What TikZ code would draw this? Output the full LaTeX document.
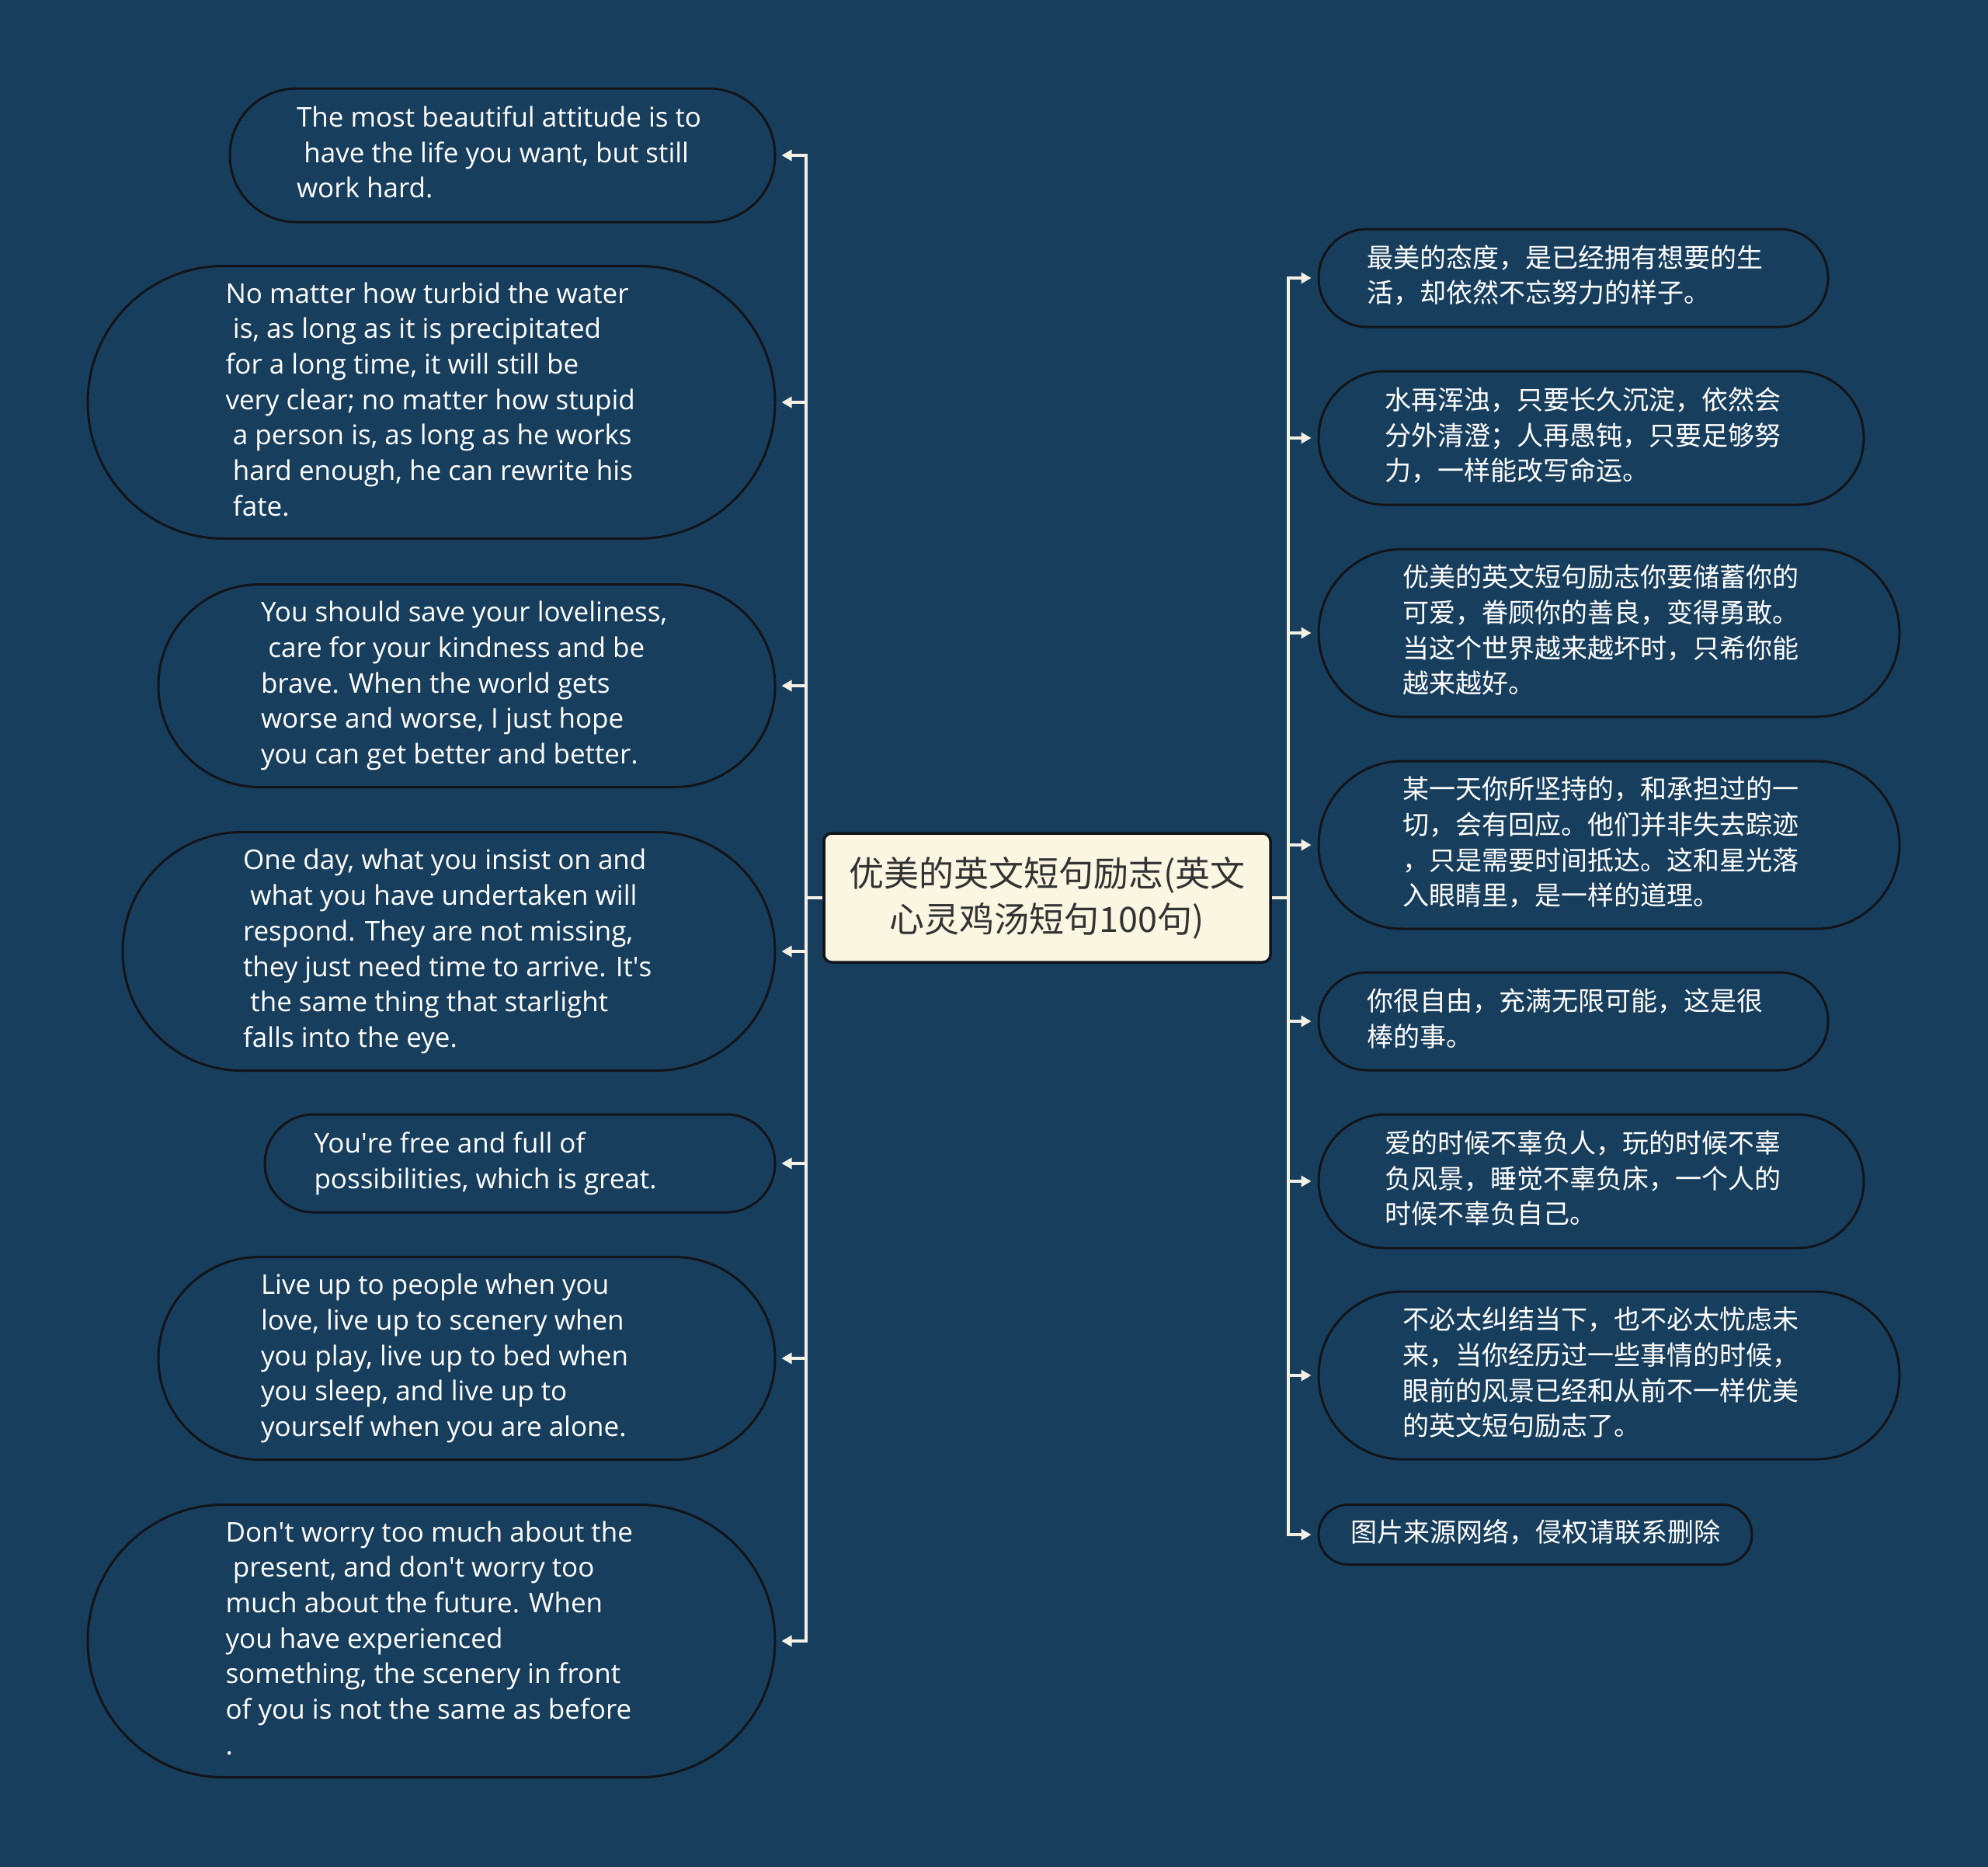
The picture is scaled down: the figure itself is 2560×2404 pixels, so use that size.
\documentclass[tikz,border=0pt]{standalone}
\usepackage{fontspec}
\setmainfont{Open Sans}
\newfontfamily\cjk{Noto Sans CJK SC}
\usetikzlibrary{arrows.meta}
\definecolor{bg}{HTML}{183E5E}
\definecolor{edgeblk}{HTML}{121418}
\definecolor{conncol}{HTML}{F4F1E4}
\definecolor{rootfill}{HTML}{FBF6E2}
\definecolor{roottext}{HTML}{333333}
\newcommand{\ind}{\hspace*{0.27em}}
\newcommand{\apo}{\textquotesingle}
\newcommand{\tbl}[2]{\raisebox{-3pt}{\makebox[#1pt][l]{\begin{tabular}{@{}l@{}}#2\end{tabular}}}}
\begin{document}
\begin{tikzpicture}[x=1pt,y=-1pt,
  leaf/.style 2 args={draw=edgeblk, line width=3, fill=bg, text=white,
     inner sep=0pt, minimum width=#1, minimum height=#2, rounded corners=#2/2-0.5},
  entext/.style={font=\fontsize{35}{45.7}\selectfont},
  cntext/.style={font=\cjk\fontsize{34}{45.7}\selectfont},
  root/.style={draw=edgeblk, line width=3.5, fill=rootfill, text=roottext, align=center,
     inner sep=0pt, minimum width=575, minimum height=166, rounded corners=10,
     font=\cjk\fontsize{45}{59}\selectfont},
  conn/.style={draw=conncol, line width=3.4, -{Triangle[length=13,width=14]}}]
\fill[bg] (0,0) rectangle (2560,2404);
\useasboundingbox (0,0) rectangle (2560,2404);

\node[root] (c) at (1348.5,1156) {优美的英文短句励志(英文\\心灵鸡汤短句100句)};

\coordinate (tl) at (1038,1156);
\coordinate (tr) at (1659,1156);

% left nodes
\node[leaf={702}{172}, entext] (L1) at (647,200) {\tbl{530}{The most beautiful attitude is to\\\ind have the life you want, but still\\work hard.}};
\node[leaf={885}{351}, entext] (L2) at (555.5,518) {\tbl{530}{No matter how turbid the water\\\ind is, as long as it is precipitated\\for a long time, it will still be\\very clear; no matter how stupid\\\ind a person is, as long as he works\\\ind hard enough, he can rewrite his\\\ind fate.}};
\node[leaf={794}{261}, entext] (L3) at (601,883) {\tbl{530}{You should save your loveliness,\\\ind care for your kindness and be\\brave. When the world gets\\worse and worse, I just hope\\you can get better and better.}};
\node[leaf={840}{307}, entext] (L4) at (578,1225) {\tbl{530}{One day, what you insist on and\\\ind what you have undertaken will\\respond. They are not missing,\\they just need time to arrive. It\apo s\\\ind the same thing that starlight\\falls into the eye.}};
\node[leaf={657}{126}, entext] (L5) at (669.5,1498) {\tbl{530}{You\apo re free and full of\\possibilities, which is great.}};
\node[leaf={794}{261}, entext] (L6) at (601,1749) {\tbl{530}{Live up to people when you\\love, live up to scenery when\\you play, live up to bed when\\you sleep, and live up to\\yourself when you are alone.}};
\node[leaf={885}{351}, entext] (L7) at (555.5,2113) {\tbl{530}{Don\apo t worry too much about the\\\ind present, and don\apo t worry too\\much about the future. When\\you have experienced\\something, the scenery in front\\of you is not the same as before\\.}};

% right nodes
\node[leaf={656}{126}, cntext] (R1) at (2026,358) {\tbl{532}{最美的态度，是已经拥有想要的生\\活，却依然不忘努力的样子。}};
\node[leaf={702}{172}, cntext] (R2) at (2049,564) {\tbl{532}{水再浑浊，只要长久沉淀，依然会\\分外清澄；人再愚钝，只要足够努\\力，一样能改写命运。}};
\node[leaf={748}{216}, cntext] (R3) at (2072,815) {\tbl{532}{优美的英文短句励志你要储蓄你的\\可爱，眷顾你的善良，变得勇敢。\\当这个世界越来越坏时，只希你能\\越来越好。}};
\node[leaf={748}{216}, cntext] (R4) at (2072,1088) {\tbl{532}{某一天你所坚持的，和承担过的一\\切，会有回应。他们并非失去踪迹\\，只是需要时间抵达。这和星光落\\入眼睛里，是一样的道理。}};
\node[leaf={656}{126}, cntext] (R5) at (2026,1315) {\tbl{532}{你很自由，充满无限可能，这是很\\棒的事。}};
\node[leaf={702}{172}, cntext] (R6) at (2049,1521) {\tbl{532}{爱的时候不辜负人，玩的时候不辜\\负风景，睡觉不辜负床，一个人的\\时候不辜负自己。}};
\node[leaf={748}{216}, cntext] (R7) at (2072,1771) {\tbl{532}{不必太纠结当下，也不必太忧虑未\\来，当你经历过一些事情的时候，\\眼前的风景已经和从前不一样优美\\的英文短句励志了。}};
\node[leaf={558}{77}, cntext] (R8) at (1977,1976) {\tbl{476}{图片来源网络，侵权请联系删除}};

% connectors
\foreach \n in {L1,L2,L3,L4,L5,L6,L7}
  \draw[conn, shorten >=7] (c.west) -- (tl) |- (\n.east);
\foreach \n in {R1,R2,R3,R4,R5,R6,R7,R8}
  \draw[conn, shorten >=8] (c.east) -- (tr) |- (\n.west);
\end{tikzpicture}
\end{document}
